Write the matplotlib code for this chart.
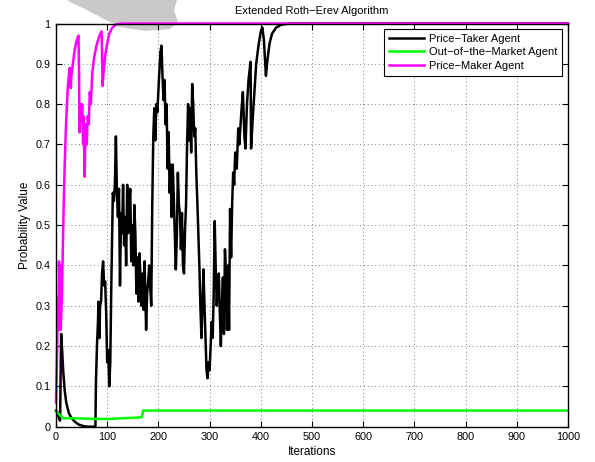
import matplotlib
matplotlib.use("Agg")
import matplotlib.pyplot as plt
from matplotlib.patches import Polygon

plt.rcParams['font.family'] = ['Liberation Sans', 'DejaVu Sans']

# ---- data ----
taker_x = [0, 3, 6, 8, 9, 10, 12, 14, 17, 20, 25, 30, 37, 45, 55, 65, 77,
           78, 80, 82, 83, 85, 86, 88, 90, 92, 94, 96, 98, 100, 102, 104, 106, 108, 110,
           111, 113, 115, 117, 119, 121, 123, 125, 127, 129, 131, 133, 135, 137, 139, 141,
           143, 145, 147, 149, 151, 153, 155, 157, 159, 161, 163, 165, 167, 169, 171, 173,
           176, 178, 180, 182, 184, 186, 188, 190, 192, 194, 196, 198, 201, 204, 206, 208,
           210, 212, 214, 216, 218, 220, 222, 224, 226, 228, 230, 232, 234, 236, 238, 240,
           242, 244, 246, 248, 250, 252, 254, 256, 258, 260, 262, 264, 266, 268, 270, 272,
           274, 276, 278, 280, 282, 284, 286, 288, 290, 292, 294, 296, 298, 300, 302, 304,
           306, 308, 310, 312, 314, 316, 318, 320, 322, 324, 326, 328, 330, 332, 334, 336,
           338, 340, 342, 344, 346, 348, 350, 353, 356, 358, 362, 365, 368, 370, 373, 376,
           380, 381, 384, 387, 391, 396, 400, 403, 406, 410, 413, 417, 422, 430, 440, 455, 1000]
taker_y = [0.04, 0.035, 0.02, 0.015, 0.12, 0.23, 0.19, 0.14, 0.09, 0.06, 0.034, 0.022, 0.012, 0.005, 0.001, 0.0, 0.0,
           0.11, 0.20, 0.26, 0.31, 0.22, 0.30, 0.31, 0.38, 0.41, 0.35, 0.36, 0.28, 0.16, 0.19, 0.10, 0.16, 0.35, 0.50,
           0.58, 0.56, 0.60, 0.72, 0.58, 0.52, 0.59, 0.35, 0.53, 0.48, 0.60, 0.45, 0.52, 0.40, 0.60, 0.48,
           0.55, 0.59, 0.41, 0.50, 0.40, 0.55, 0.48, 0.33, 0.42, 0.31, 0.43, 0.37, 0.30, 0.38, 0.29, 0.41,
           0.24, 0.33, 0.36, 0.40, 0.35, 0.30, 0.55, 0.72, 0.79, 0.71, 0.80, 0.78, 0.86, 0.93, 0.945, 0.87,
           0.81, 0.86, 0.75, 0.80, 0.64, 0.73, 0.58, 0.65, 0.52, 0.65, 0.57, 0.48, 0.39, 0.47, 0.63, 0.55,
           0.53, 0.44, 0.53, 0.40, 0.38, 0.49, 0.55, 0.70, 0.80, 0.71, 0.79, 0.68, 0.85, 0.80, 0.72, 0.74,
           0.63, 0.56, 0.48, 0.40, 0.30, 0.22, 0.30, 0.39, 0.30, 0.22, 0.14, 0.12, 0.16, 0.14, 0.20, 0.26,
           0.22, 0.33, 0.51, 0.39, 0.30, 0.36, 0.38, 0.28, 0.20, 0.30, 0.37, 0.23, 0.44, 0.38, 0.24, 0.40,
           0.24, 0.54, 0.42, 0.55, 0.63, 0.60, 0.68, 0.64, 0.74, 0.70, 0.78, 0.83, 0.72, 0.69, 0.80, 0.86,
           0.905, 0.69, 0.76, 0.82, 0.90, 0.95, 0.98, 0.99, 0.96, 0.87, 0.91, 0.95, 0.975, 0.99, 0.997, 1.0, 1.0]

out_x = [0, 5, 14, 30, 60, 100, 130, 164, 168, 170, 1000]
out_y = [0.037, 0.032, 0.021, 0.021, 0.020, 0.019, 0.021, 0.023, 0.024, 0.040, 0.040]

maker_x = [0, 2, 4, 5, 6, 7, 8, 9, 11, 13, 15, 17, 19, 21, 23, 25, 27, 29, 30, 33, 36, 39, 42, 44,
           45, 46, 48, 50, 51, 53, 54, 56, 58, 60, 62, 64, 66, 68, 71, 75, 80, 85, 89, 90, 91,
           93, 96, 100, 104, 110, 118, 130, 1000]
maker_y = [0.06, 0.18, 0.32, 0.24, 0.41, 0.30, 0.40, 0.24, 0.30, 0.42, 0.55, 0.65, 0.73, 0.79, 0.84, 0.87,
           0.89, 0.84, 0.87, 0.90, 0.93, 0.95, 0.965, 0.97, 0.88, 0.73, 0.80, 0.76, 0.80, 0.70, 0.77, 0.62,
           0.75, 0.70, 0.77, 0.75, 0.83, 0.80, 0.88, 0.92, 0.95, 0.97, 0.98, 0.92, 0.845, 0.88, 0.92, 0.95,
           0.975, 0.99, 0.998, 1.0, 1.0]

labels = ['Price\u2212Taker Agent', 'Out\u2212of\u2212the\u2212Market Agent', 'Price\u2212Maker Agent']
x_ticks = [0, 100, 200, 300, 400, 500, 600, 700, 800, 900, 1000]
y_ticks = [0, 0.1, 0.2, 0.3, 0.4, 0.5, 0.6, 0.7, 0.8, 0.9, 1]
y_ticklabels = ['0', '0.1', '0.2', '0.3', '0.4', '0.5', '0.6', '0.7', '0.8', '0.9', '1']

# ---- figure ----
W, H = 595, 462
fig = plt.figure(figsize=(W / 100, H / 100), dpi=100, facecolor='white')
ax = fig.add_axes([56 / W, 1 - 426.7 / H, (568 - 56) / W, (426.7 - 23.5) / H])
ax.set_facecolor('none')

# grey watermark blob at the top (figure pixel coords)
blob = [(67, 0), (177, 0), (174, 10), (178, 22), (170, 29), (145, 31), (120, 27),
        (102, 18), (85, 9), (72, 3)]
poly = Polygon([(px / W, 1 - py / H) for px, py in blob], closed=True,
               transform=fig.transFigure, facecolor='#c9c9c9', edgecolor='none', zorder=-5)
fig.patches.append(poly)

lw = 1.8
ax.plot(taker_x, taker_y, color='black', lw=lw, label=labels[0], clip_on=False, zorder=3)
ax.plot(out_x, out_y, color='#00ff00', lw=lw, label=labels[1], clip_on=False, zorder=3)
ax.plot(maker_x, maker_y, color='#ff00ff', lw=lw, label=labels[2], clip_on=False, zorder=4)

ax.set_xlim(0, 1000)
ax.set_ylim(0, 1)
ax.set_xticks(x_ticks)
ax.set_xticklabels([str(t) for t in x_ticks])
ax.set_yticks(y_ticks)
ax.set_yticklabels(y_ticklabels)
ax.tick_params(direction='in', length=4, width=0.8, top=True, right=True, labelsize=7.8, pad=4)
ax.grid(True, color='#555555', linestyle=(0, (1, 3.5)), linewidth=0.6)
for s in ax.spines.values():
    s.set_linewidth(1.0)
    s.set_zorder(5)

ax.set_xlabel('Iterations', fontsize=8.5, labelpad=2.5)
ax.set_ylabel('Probability Value', fontsize=8.5, labelpad=3)
ax.set_title('Extended Roth\u2212Erev Algorithm', fontsize=8, pad=7)

leg = ax.legend(loc='upper right', fontsize=8, handlelength=3.2, handletextpad=0.45,
                borderpad=0.42, labelspacing=0.32, borderaxespad=0.5, fancybox=False,
                framealpha=1, edgecolor='black')
leg.get_frame().set_linewidth(0.8)
leg.set_zorder(10)

fig.savefig('out.png', dpi=100, facecolor='white')
